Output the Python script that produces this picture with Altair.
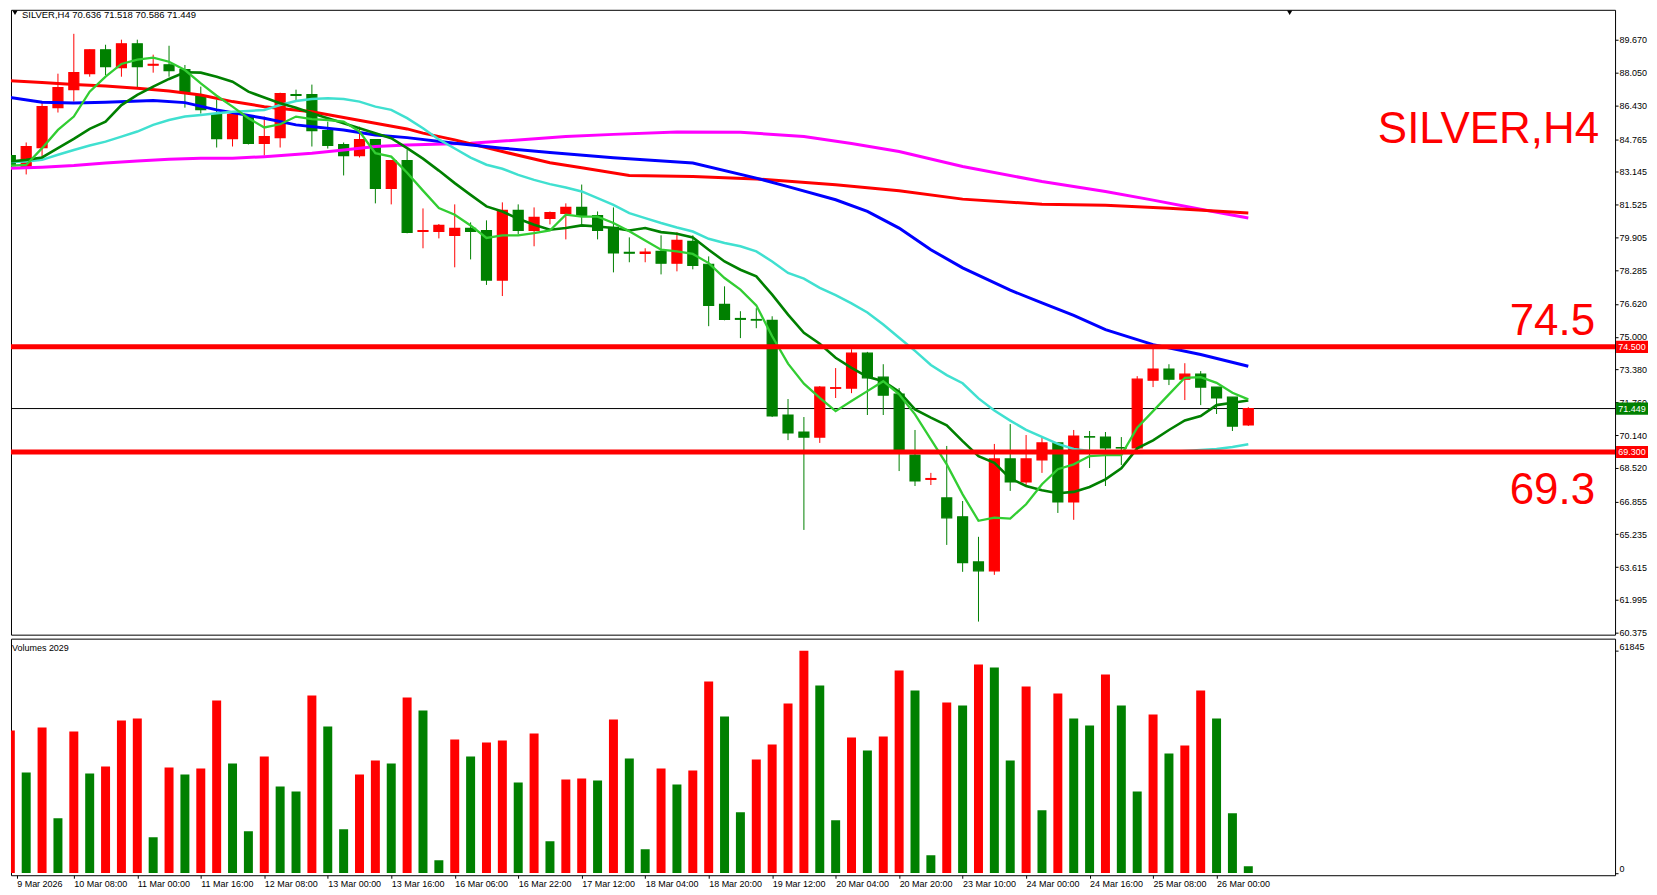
import altair as alt
import pandas as pd

# ---------------- data ----------------
opens = [83.95, 83.41, 84.35, 86.32, 87.21, 88.00, 89.18, 88.30, 89.48, 88.42,
         88.44, 88.20, 86.91, 86.03, 84.79, 85.88, 84.55, 84.84, 86.96, 86.96,
         85.19, 84.50, 83.95, 84.74, 82.33, 83.71, 80.20, 80.20, 80.01, 80.35,
         80.25, 77.80, 81.24, 80.25, 80.85, 81.09, 81.39, 80.99, 80.40, 79.17,
         79.12, 79.22, 78.63, 79.71, 78.58, 76.60, 75.90, 75.85, 75.81, 71.13,
         70.29, 70.04, 72.45, 72.46, 74.19, 73.00, 72.16, 69.15, 67.95, 67.03,
         66.10, 63.87, 63.43, 68.96, 67.82, 68.91, 69.75, 66.83, 70.06, 70.04,
         69.52, 69.50, 72.85, 73.40, 72.90, 73.15, 72.51, 72.01, 70.636]
highs = [85.09, 84.60, 86.65, 88.00, 89.97, 89.20, 89.43, 89.68, 89.68, 88.94,
         89.38, 88.43, 87.36, 86.72, 86.03, 85.90, 85.88, 87.06, 87.21, 87.46,
         85.63, 84.60, 85.38, 84.74, 83.71, 84.25, 81.34, 80.57, 81.54, 80.65,
         80.75, 81.64, 81.54, 81.39, 81.19, 81.59, 82.52, 81.19, 81.39, 79.91,
         79.37, 80.01, 80.16, 80.01, 78.97, 77.49, 76.26, 76.41, 76.01, 71.92,
         71.03, 72.56, 73.45, 74.38, 74.25, 73.64, 72.46, 70.39, 68.27, 69.60,
         66.88, 65.11, 69.70, 70.68, 70.14, 70.04, 69.75, 70.39, 70.34, 70.29,
         70.04, 73.05, 74.43, 73.64, 73.69, 73.30, 72.51, 72.01, 71.518]
lows = [82.80, 83.02, 83.86, 86.08, 86.62, 87.85, 87.93, 87.85, 87.28, 88.05,
        87.85, 86.32, 86.03, 84.35, 84.40, 84.50, 83.95, 84.35, 86.62, 84.40,
        84.30, 82.97, 83.86, 81.59, 81.54, 80.11, 79.37, 79.86, 78.43, 78.82,
        77.56, 77.01, 80.06, 79.47, 80.55, 79.81, 80.55, 79.81, 78.18, 78.68,
        78.68, 78.08, 78.23, 78.33, 75.52, 75.81, 74.93, 75.42, 71.03, 69.89,
        65.45, 69.75, 71.97, 72.21, 71.13, 71.13, 68.36, 67.62, 67.67, 64.71,
        63.38, 60.92, 63.23, 67.38, 67.60, 68.27, 66.29, 65.95, 68.51, 67.62,
        68.66, 69.50, 72.51, 72.61, 71.87, 71.62, 71.18, 70.34, 70.586]
closes = [83.46, 84.40, 86.37, 87.31, 88.05, 89.18, 88.35, 89.48, 88.35, 88.46,
          88.15, 87.06, 86.22, 84.79, 85.98, 84.55, 84.89, 87.01, 86.93, 85.19,
          84.45, 83.95, 84.74, 82.33, 83.71, 80.16, 80.24, 80.50, 80.35, 80.20,
          77.80, 81.24, 80.25, 80.90, 81.14, 81.39, 80.94, 80.25, 79.14, 79.13,
          79.18, 78.63, 79.76, 78.53, 76.55, 75.86, 75.86, 75.82, 71.08, 70.24,
          70.04, 72.51, 72.48, 74.19, 72.97, 72.11, 69.40, 67.87, 67.99, 66.05,
          63.83, 63.43, 68.96, 67.82, 68.96, 69.75, 66.83, 70.09, 70.04, 69.50,
          69.50, 72.90, 73.40, 72.90, 73.15, 72.51, 71.97, 70.58, 71.449]
volumes = [39624, 27959, 40457, 15183, 39347, 27681, 29626, 42402, 42957, 9906,
           29348, 27404, 29070, 47956, 30459, 11572, 32403, 24071, 22682, 49345,
           40735, 12128, 27404, 31292, 30459, 48790, 45179, 3518, 37125, 32403,
           36291, 36847, 25182, 38791, 8795, 26015, 26293, 25737, 42679, 31847,
           6573, 29070, 24626, 28515, 53234, 43513, 16850, 31570, 35736, 47123,
           61845, 52123, 14628, 37680, 34069, 37958, 56289, 50734, 4907, 47401,
           46568, 57955, 57122, 31292, 51845, 17405, 49901, 42957, 41013, 55178,
           46568, 22682, 44068, 33236, 35458, 50734, 42957, 16572, 1852]
ma_fast = [83.46, 83.49, 84.32, 85.22, 85.88, 87.11, 87.85, 88.48, 88.69, 88.79,
           88.59, 88.18, 87.52, 86.91, 86.37, 85.80, 85.34, 85.50, 85.88, 85.75,
           85.71, 85.63, 85.14, 84.07, 83.90, 83.10, 82.22, 81.36, 81.03, 80.50,
           79.88, 80.01, 80.01, 80.12, 80.25, 81.03, 80.94, 80.93, 80.62, 80.21,
           79.76, 79.30, 79.22, 79.09, 78.64, 77.90, 77.33, 76.55, 75.02, 73.67,
           72.68, 71.98, 71.32, 71.82, 72.31, 72.80, 72.15, 71.16, 69.93, 68.69,
           67.21, 65.90, 66.06, 66.01, 66.72, 67.71, 68.45, 68.69, 69.10, 69.15,
           69.15, 70.50, 71.32, 72.15, 72.97, 73.00, 72.72, 72.23, 71.90]
ma_mid = [83.66, 83.74, 83.86, 84.32, 84.78, 85.27, 85.63, 86.45, 86.95, 87.36,
          87.74, 88.07, 88.05, 87.85, 87.60, 87.11, 86.82, 86.54, 86.32, 86.04,
          85.80, 85.55, 85.30, 85.06, 84.81, 84.32, 83.80, 83.21, 82.59, 82.01,
          81.44, 81.19, 80.83, 80.53, 80.29, 80.37, 80.50, 80.45, 80.37, 80.25,
          80.37, 80.17, 80.09, 79.91, 79.30, 78.72, 78.31, 77.98, 77.08, 76.09,
          75.19, 74.65, 73.96, 73.46, 73.02, 72.80, 72.28, 71.41, 71.00, 70.62,
          69.84, 69.10, 68.77, 68.00, 67.62, 67.41, 67.26, 67.33, 67.57, 67.95,
          68.50, 69.48, 69.88, 70.39, 70.86, 71.08, 71.62, 71.74, 71.85]
ma_turq = [83.63, 83.66, 83.74, 83.99, 84.23, 84.45, 84.64, 84.89, 85.14, 85.47,
           85.71, 85.88, 85.96, 86.04, 86.12, 86.16, 86.21, 86.45, 86.65, 86.75,
           86.78, 86.75, 86.62, 86.37, 86.21, 85.80, 85.30, 84.75, 84.30, 83.85,
           83.50, 83.30, 83.00, 82.75, 82.54, 82.37, 82.18, 81.85, 81.52, 81.11,
           80.86, 80.62, 80.40, 80.20, 79.84, 79.63, 79.47, 79.22, 78.72, 78.15,
           77.87, 77.41, 77.05, 76.65, 76.20, 75.60, 74.95, 74.30, 73.60, 73.10,
           72.70, 71.95, 71.35, 70.85, 70.40, 70.05, 69.70, 69.45, 69.35, 69.30,
           69.25, 69.25, 69.28, 69.30, 69.35, 69.40, 69.45, 69.55, 69.68]
blue_idx = [0, 2, 4, 6, 9, 11, 13, 16, 18, 21, 23, 25, 28, 31, 34, 38, 43, 47, 49,
            52, 54, 56, 58, 60, 63, 65, 67, 69, 72, 75, 78]
blue_val = [86.82, 86.59, 86.55, 86.59, 86.67, 86.57, 86.21, 85.80, 85.47, 85.22,
            84.97, 84.84, 84.56, 84.32, 84.10, 83.85, 83.58, 82.84, 82.42, 81.77,
            81.19, 80.37, 79.30, 78.40, 77.30, 76.67, 76.05, 75.35, 74.61, 74.12, 73.54]
red_idx = [0, 2, 4, 6, 8, 10, 12, 14, 16, 19, 21, 23, 25, 26, 28, 31, 34, 36, 39,
           43, 47, 52, 56, 60, 65, 69, 73, 78]
red_val = [87.65, 87.56, 87.47, 87.39, 87.28, 87.14, 86.95, 86.62, 86.37, 86.12,
           85.83, 85.55, 85.27, 85.06, 84.73, 84.15, 83.60, 83.35, 82.97, 82.92,
           82.80, 82.51, 82.21, 81.80, 81.55, 81.50, 81.35, 81.12]
mag_idx = [0, 2, 4, 6, 8, 10, 12, 14, 16, 19, 21, 23, 25, 29, 35, 38, 42, 46, 50,
           53, 56, 60, 65, 69, 72, 75, 78]
mag_val = [83.33, 83.38, 83.46, 83.58, 83.69, 83.77, 83.82, 83.82, 83.90, 84.07,
           84.23, 84.40, 84.48, 84.56, 84.89, 85.00, 85.12, 85.10, 84.90, 84.55,
           84.15, 83.41, 82.67, 82.18, 81.75, 81.30, 80.87]
date_labels = ["9 Mar 2026", "10 Mar 08:00", "11 Mar 00:00", "11 Mar 16:00",
               "12 Mar 08:00", "13 Mar 00:00", "13 Mar 16:00", "16 Mar 06:00",
               "16 Mar 22:00", "17 Mar 12:00", "18 Mar 04:00", "18 Mar 20:00",
               "19 Mar 12:00", "20 Mar 04:00", "20 Mar 20:00", "23 Mar 10:00",
               "24 Mar 00:00", "24 Mar 16:00", "25 Mar 08:00", "26 Mar 00:00"]
price_ticks = [89.670, 88.050, 86.430, 84.765, 83.145, 81.525, 79.905, 78.285,
               76.620, 75.000, 73.380, 71.760, 70.140, 68.520, 66.855, 65.235,
               63.615, 61.995, 60.375]
levels = [74.5, 69.3]
bid = 71.449
vol_ticks = [0, 61845]

# ---------------- tables ----------------
n = len(opens)
candles = pd.DataFrame({
    "i": list(range(n)), "o": opens, "h": highs, "l": lows, "c": closes,
})
candles["lo"] = candles[["o", "c"]].min(axis=1)
candles["hi"] = candles[["o", "c"]].max(axis=1)
candles["dir"] = ["up" if c >= o else "down" for o, c in zip(opens, closes)]

vol = pd.DataFrame({"i": list(range(n)), "v": volumes, "zero": 0})
vol["dir"] = ["up" if k == 0 or volumes[k] >= volumes[k - 1] else "down" for k in range(n)]

fast_df = pd.DataFrame({"i": list(range(n)), "p": ma_fast})
mid_df = pd.DataFrame({"i": list(range(n)), "p": ma_mid})
turq_df = pd.DataFrame({"i": list(range(n)), "p": ma_turq})
blue_df = pd.DataFrame({"i": blue_idx, "p": blue_val})
red_df = pd.DataFrame({"i": red_idx, "p": red_val})
mag_df = pd.DataFrame({"i": mag_idx, "p": mag_val})
lev_df = pd.DataFrame({"p": levels})
bid_df = pd.DataFrame({"p": [bid]})

HALF = 0.30
box_df = pd.DataFrame({
    "p": [74.5, bid, 69.3],
    "label": ["74.500", "71.449", "69.300"],
    "kind": ["lvl", "bid", "lvl"],
})
box_df["top"] = box_df["p"] + HALF
box_df["bot"] = box_df["p"] - HALF

# ---------------- geometry ----------------
W = 1607
H_PRICE = 626
H_VOL = 237
X_DOM = [(8 - 2.3) / 16, (1615 - 2.3) / 16]
Y_DOM = [60.274, 91.157]
V_DOM = [-639, 65177]
FONT = "Liberation Sans"
RED = "#FF0000"
GREEN = "#008000"

xscale = alt.Scale(domain=X_DOM, nice=False, zero=False)
yscale = alt.Scale(domain=Y_DOM, nice=False, zero=False)
yax = alt.Axis(orient="right", values=price_ticks, format=".3f", title=None, grid=False,
               tickSize=3, labelPadding=1, domain=False, labelFontSize=9,
               labelColor="black", tickColor="black", labelOverlap=False,
               labelFont=FONT)
dir_color = alt.Scale(domain=["up", "down"], range=[RED, GREEN])


def X(field):
    return alt.X(field, type="quantitative", scale=xscale, axis=None)


def Y(field):
    return alt.Y(field, type="quantitative", scale=yscale, axis=yax)


bid_line = alt.Chart(bid_df).mark_rule(color="black", strokeWidth=1).encode(y=Y("p"))

wicks = alt.Chart(candles).mark_rule(strokeWidth=1, clip=True).encode(
    x=X("i"), y=Y("l"), y2="h",
    color=alt.Color("dir:N", scale=dir_color, legend=None))

bodies = alt.Chart(candles).mark_bar(width=10, strokeWidth=1.2, clip=True).encode(
    x=X("i"), y=Y("lo"), y2="hi",
    color=alt.Color("dir:N", scale=dir_color, legend=None),
    stroke=alt.Stroke("dir:N", scale=dir_color, legend=None))


def ma(df, color, width):
    return alt.Chart(df).mark_line(color=color, strokeWidth=width, clip=True).encode(
        x=X("i"), y=Y("p"))


lines = [
    ma(mag_df, "#FF00FF", 3),
    ma(red_df, "#FF0000", 3),
    ma(blue_df, "#0000FF", 3),
    ma(turq_df, "#40E0D0", 2.5),
    ma(mid_df, "#008000", 2.6),
    ma(fast_df, "#32CD32", 2.3),
]

level_lines = alt.Chart(lev_df).mark_rule(color=RED, strokeWidth=5).encode(y=Y("p"))

boxes = alt.Chart(box_df).mark_rect().encode(
    x=alt.value(W + 1), x2=alt.value(W + 33),
    y=Y("top"), y2="bot",
    color=alt.Color("kind:N", scale=alt.Scale(domain=["lvl", "bid"], range=[RED, "black"]), legend=None))
box_text = alt.Chart(box_df).mark_text(color="white", fontSize=9, font=FONT,
                                       align="center", baseline="middle").encode(
    x=alt.value(W + 17), y=Y("p"), text="label:N")

big_hi = alt.Chart(pd.DataFrame({"p": [74.5], "label": ["74.5"]})).mark_text(
    color=RED, fontSize=44, font=FONT, align="right", baseline="alphabetic", dy=-12).encode(
    x=alt.value(1587), y=Y("p"), text="label:N")
big_lo = alt.Chart(pd.DataFrame({"p": [69.3], "label": ["69.3"]})).mark_text(
    color=RED, fontSize=44, font=FONT, align="right", baseline="alphabetic", dy=52).encode(
    x=alt.value(1587), y=Y("p"), text="label:N")

title_big = alt.Chart(pd.DataFrame({"t": ["SILVER,H4"]})).mark_text(
    color=RED, fontSize=44, font=FONT, align="right", baseline="alphabetic").encode(
    x=alt.value(1591), y=alt.value(133), text="t:N")

header = alt.Chart(pd.DataFrame({"t": ["SILVER,H4  70.636 71.518 70.586 71.449"]})).mark_text(
    color="black", fontSize=9.5, font=FONT, align="left", baseline="alphabetic", clip=True).encode(
    x=alt.value(11), y=alt.value(8), text="t:N")

marker = alt.Chart(pd.DataFrame({"t": ["a", "b"], "x": [4, 1281]})).mark_point(
    shape="triangle-down", filled=True, size=28, color="black", opacity=1).encode(
    x=alt.X("x:Q", scale=None, axis=None), y=alt.value(3))

price = alt.layer(bid_line, wicks, bodies, *lines, level_lines, boxes, box_text,
                  big_hi, big_lo, title_big, header, marker).properties(width=W, height=H_PRICE)

# ---------------- volume panel ----------------
xvals = [0.4] + [4 * k for k in range(1, len(date_labels))]
lab_arr = "[" + ",".join("'" + s + "'" for s in date_labels) + "]"
xax = alt.Axis(orient="bottom", values=xvals, labelExpr=lab_arr + "[round(datum.value/4)]",
               labelAlign="left", labelPadding=1, tickSize=3, labelFlush=False,
               labelOverlap=False, domain=False, grid=False, title=None,
               labelFontSize=9, labelFont=FONT, labelColor="black", tickColor="black")
vax = alt.Axis(orient="right", values=vol_ticks, format="d", title=None, grid=False,
               tickSize=3, labelPadding=1, domain=False, labelFontSize=9, labelFont=FONT,
               labelColor="black", tickColor="black", labelOverlap=False, labelOffset=-4)

vbars = alt.Chart(vol).mark_bar(width=9, clip=True).encode(
    x=alt.X("i:Q", scale=xscale, axis=xax),
    y=alt.Y("v:Q", scale=alt.Scale(domain=V_DOM, nice=False, zero=False), axis=vax),
    y2="zero",
    color=alt.Color("dir:N", scale=dir_color, legend=None))

vlabel = alt.Chart(pd.DataFrame({"t": ["Volumes 2029"]})).mark_text(
    color="black", fontSize=9, font=FONT, align="left", baseline="middle").encode(
    x=alt.value(1), y=alt.value(9), text="t:N")

volume = alt.layer(vbars, vlabel).properties(width=W, height=H_VOL)

chart = alt.vconcat(price, volume, spacing=4, bounds="flush").properties(
    padding=0, background="white"
).configure_view(stroke="black", strokeWidth=1).configure_axis(labelFont=FONT)

chart.save("out.html", embed_options={"renderer": "svg", "actions": False})
